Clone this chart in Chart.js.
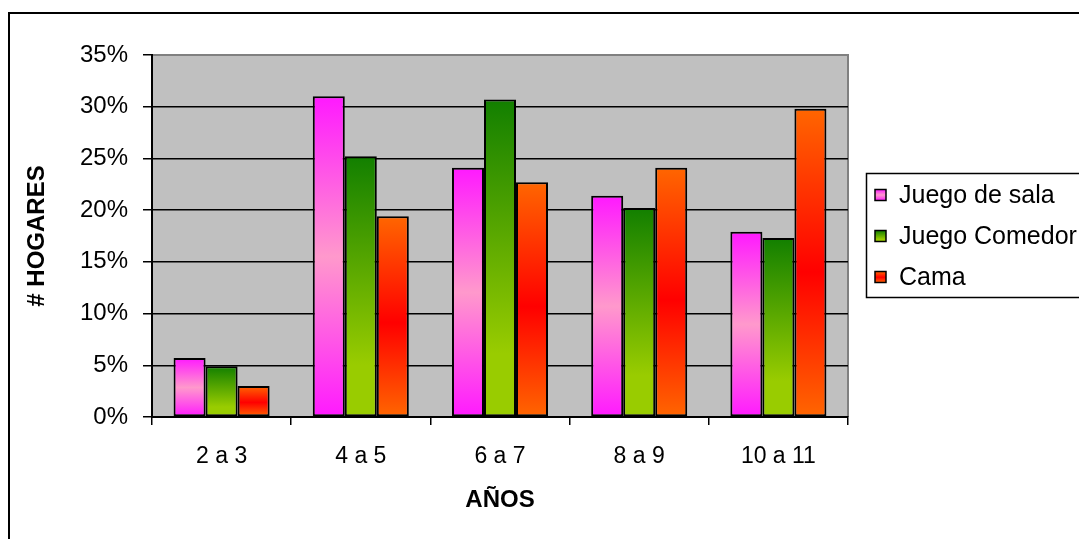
<!DOCTYPE html>
<html>
<head>
<meta charset="utf-8">
<script src="https://cdn.jsdelivr.net/npm/chart.js@4/dist/chart.umd.min.js"></script>
<style>
  html, body { margin: 0; padding: 0; background: #fff; }
  #wrap { width: 1079px; height: 539px; position: relative; }
</style>
</head>
<body>
<div id="wrap"><canvas id="chart" width="1079" height="539"></canvas></div>
<script>
// Age groups and the share of households (%) per furniture item
const categories = ['2 a 3', '4 a 5', '6 a 7', '8 a 9', '10 a 11'];
const juegoDeSala = [5.7, 31.0, 24.1, 21.4, 17.9];
const juegoComedor = [4.9, 25.2, 30.7, 20.2, 17.3];
const cama = [3.0, 19.4, 22.7, 24.1, 29.8];
const seriesNames = ['Juego de sala', 'Juego Comedor', 'Cama'];
const yTicks = [0, 5, 10, 15, 20, 25, 30, 35];

// Vertical gradient stops for each series (top -> base)
const gradientStops = [
  [[0, '#FF19FF'], [0.5, '#FF99CC'], [1, '#FF19FF']],
  [[0, '#127F00'], [0.8, '#99CC00'], [1, '#99CC00']],
  [[0, '#FF6600'], [0.53, '#FF0000'], [1, '#FF6600']]
];

const FONT = "'Liberation Sans', Arial, sans-serif";

function makeGradient(c2d, top, bottom, stops) {
  const g = c2d.createLinearGradient(0, top, 0, bottom);
  stops.forEach(([o, col]) => g.addColorStop(o, col));
  return g;
}

function barFill(stops) {
  return (ctx) => {
    const chart = ctx.chart;
    if (!chart.chartArea || ctx.type !== 'data') return stops[0][1];
    const y = chart.scales.y;
    const top = y.getPixelForValue(ctx.raw);
    const base = y.getPixelForValue(0);
    if (!isFinite(top) || top === base) return stops[0][1];
    return makeGradient(chart.ctx, top, base, stops);
  };
}

// Plot background, outer frame and the grey top/right edges of the plot
const framePlugin = {
  id: 'frame',
  beforeDraw(chart) {
    const { ctx, chartArea: a } = chart;
    ctx.save();
    ctx.fillStyle = '#fff';
    ctx.fillRect(0, 0, chart.width, chart.height);
    ctx.fillStyle = '#C0C0C0';
    ctx.fillRect(a.left, a.top, a.right - a.left, a.bottom - a.top);
    ctx.strokeStyle = '#000';
    ctx.lineWidth = 2;
    ctx.strokeRect(9, 13, chart.width + 50, chart.height + 50);
    ctx.strokeStyle = '#808080';
    ctx.lineWidth = 2;
    ctx.beginPath();
    ctx.moveTo(a.left, a.top);
    ctx.lineTo(a.right, a.top);
    ctx.lineTo(a.right, a.bottom);
    ctx.stroke();
    ctx.restore();
  }
};

// Legend box on the right
const legendPlugin = {
  id: 'sideLegend',
  afterDraw(chart) {
    const { ctx } = chart;
    const box = { x: 866, y: 173, w: 260, h: 124 };
    const rowY = [195, 236, 277];
    ctx.save();
    ctx.fillStyle = '#fff';
    ctx.fillRect(box.x, box.y, box.w, box.h);
    ctx.strokeStyle = '#000';
    ctx.lineWidth = 1.5;
    ctx.strokeRect(box.x + 0.5, box.y + 0.5, box.w, box.h);
    chart.data.datasets.forEach((ds, i) => {
      const cy = rowY[i];
      const s = 11;
      const mx = 875, my = cy - s / 2;
      ctx.fillStyle = makeGradient(ctx, my, my + s, gradientStops[i]);
      ctx.fillRect(mx, my, s, s);
      ctx.strokeStyle = '#000';
      ctx.lineWidth = 1.5;
      ctx.strokeRect(mx, my, s, s);
      ctx.fillStyle = '#000';
      ctx.font = '25px ' + FONT;
      ctx.textBaseline = 'middle';
      ctx.textAlign = 'left';
      ctx.fillText(ds.label, 899, cy + 1);
    });
    ctx.restore();
  }
};

const seriesValues = [juegoDeSala, juegoComedor, cama];

new Chart(document.getElementById('chart'), {
  type: 'bar',
  data: {
    labels: categories,
    datasets: seriesValues.map((vals, i) => ({
      label: seriesNames[i],
      data: vals,
      backgroundColor: barFill(gradientStops[i]),
      borderColor: '#000',
      borderWidth: 2,
      borderSkipped: false,
      barPercentage: 1,
      categoryPercentage: 0.69
    }))
  },
  options: {
    responsive: false,
    animation: false,
    devicePixelRatio: 1,
    layout: { padding: { top: 55, right: 231, left: 0, bottom: 0 } },
    plugins: {
      legend: { display: false },
      tooltip: { enabled: false }
    },
    scales: {
      x: {
        grid: { offset: true, drawOnChartArea: false, color: '#000', lineWidth: 1.5, tickLength: 8 },
        border: { color: '#000', width: 2 },
        ticks: { color: '#000', font: { family: FONT, size: 23 }, padding: 18 },
        title: {
          display: true, text: 'AÑOS', color: '#000',
          font: { family: FONT, size: 24, weight: 'bold' },
          padding: { top: 0, bottom: 24 }
        },
        afterFit(s) { s.height = 122; }
      },
      y: {
        min: 0, max: 35,
        afterBuildTicks(s) { s.ticks = yTicks.map(v => ({ value: v })); },
        ticks: { color: '#000', font: { family: FONT, size: 24 }, padding: 15, callback: v => v + '%' },
        grid: {
          color: (c) => (c.tick && c.tick.value === 35 ? '#808080' : '#000'),
          tickColor: '#000',
          lineWidth: 1.5,
          tickLength: 9
        },
        border: { color: '#000', width: 2 },
        title: {
          display: true, text: '# HOGARES', color: '#000',
          font: { family: FONT, size: 24, weight: 'bold' },
          padding: { top: 23 }
        },
        afterFit(s) { s.width = 152; }
      }
    }
  },
  plugins: [framePlugin, legendPlugin]
});
</script>
</body>
</html>
